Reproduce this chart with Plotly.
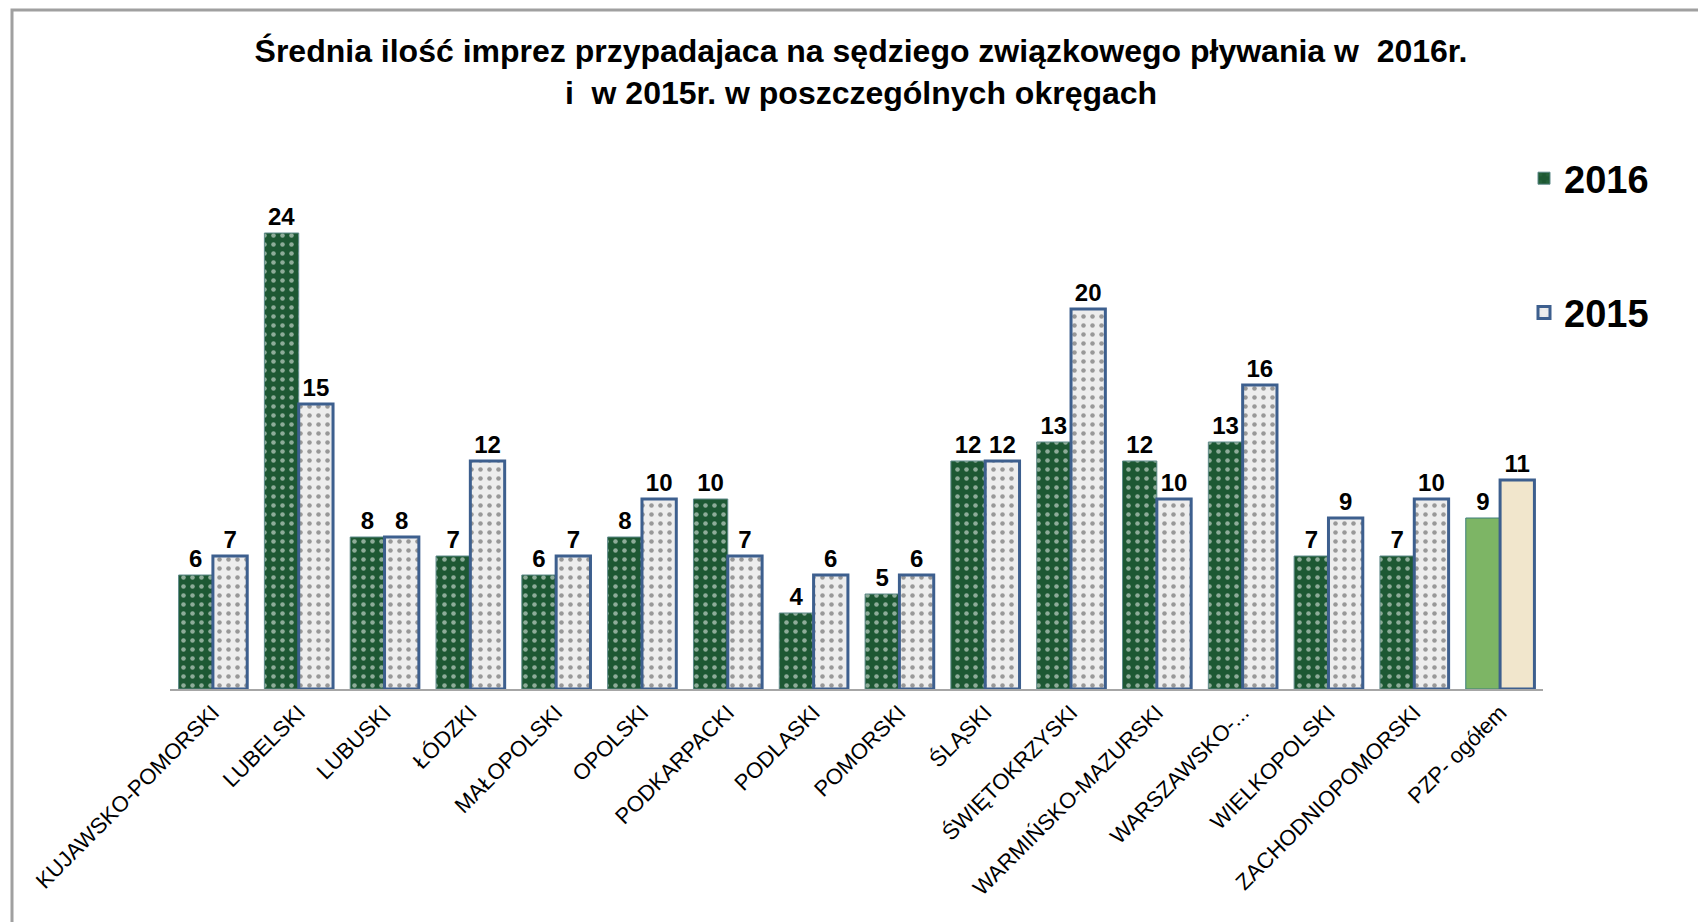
import plotly.graph_objects as go

okregi = [
    "KUJAWSKO-POMORSKI", "LUBELSKI", "LUBUSKI", "ŁÓDZKI", "MAŁOPOLSKI",
    "OPOLSKI", "PODKARPACKI", "PODLASKI", "POMORSKI", "ŚLĄSKI",
    "ŚWIĘTOKRZYSKI", "WARMIŃSKO-MAZURSKI", "WARSZAWSKO-...", "WIELKOPOLSKI",
    "ZACHODNIOPOMORSKI", "PZP- ogółem",
]
imprezy_2016 = [6, 24, 8, 7, 6, 8, 10, 4, 5, 12, 13, 12, 13, 7, 7, 9]
imprezy_2015 = [7, 15, 8, 12, 7, 10, 7, 6, 6, 12, 20, 10, 16, 9, 10, 11]

n = len(okregi)
kolor_2016 = ["#1d5833"] * (n - 1) + ["#7db565"]
kolor_2015 = ["#ededed"] * (n - 1) + ["#f1e6cc"]
ramka_2016 = ["#5f8a8a"] * (n - 1) + ["#3f7f7a"]
wzor = ["."] * (n - 1) + [""]

# strona ma 8px marginesu body, wiec wszystko przesuwamy o 8px
W, H = 1706, 922
L, R, T, B = 162, 171, 142, 241
pw, ph = W - L - R, H - T - B

fig = go.Figure()
fig.add_trace(go.Bar(
    x=okregi, y=imprezy_2016, name="2016", legendgroup="a",
    marker=dict(color=kolor_2016, line=dict(color=ramka_2016, width=1),
                pattern=dict(shape=wzor, fgcolor="#2c6b42", size=9, solidity=0.2)),
    text=imprezy_2016, textposition="outside", cliponaxis=False,
    textfont=dict(family="Liberation Sans", size=24, color="black", weight="bold"),
))
fig.add_trace(go.Bar(
    x=okregi, y=imprezy_2015, name="2015", legendgroup="b",
    marker=dict(color=kolor_2015, line=dict(color="#3d5f8e", width=3),
                pattern=dict(shape=wzor, fgcolor="#e0e0e0", size=9, solidity=0.2)),
    text=imprezy_2015, textposition="outside", cliponaxis=False,
    textfont=dict(family="Liberation Sans", size=24, color="black", weight="bold"),
))

fig.update_layout(
    width=W, height=H,
    margin=dict(l=L, r=R, t=T, b=B),
    paper_bgcolor="white", plot_bgcolor="white",
    barmode="group", bargap=0.2, bargroupgap=0.0,
    title=dict(
        text="Średnia ilość imprez przypadajaca na sędziego związkowego pływania w  2016r.<br>i  w 2015r. w poszczególnych okręgach",
        x=0.5, xanchor="center", y=1 - 54 / H, yanchor="top", yref="container",
        font=dict(family="Liberation Sans", size=32, color="black", weight="bold"),
    ),
    legend=dict(
        x=(1516 - L) / pw, xanchor="left", y=(H - B - 139) / ph, yanchor="top",
        font=dict(family="Liberation Sans", size=38, color="black", weight="bold"),
        tracegroupgap=82, bgcolor="rgba(0,0,0,0)",
    ),
    xaxis=dict(
        tickangle=-45, showline=True, linecolor="#a6a6a6", linewidth=2,
        ticks="", showgrid=False,
        tickfont=dict(family="Liberation Sans", size=22, color="black"),
    ),
    yaxis=dict(range=[0, ph / 19.0], visible=False, showgrid=False),
    shapes=[dict(
        type="rect", xref="paper", yref="paper",
        x0=(4 - L) / pw, x1=(1704 - L) / pw,
        y0=-(B + 20) / ph, y1=1 + (T - 2) / ph,
        line=dict(color="#a0a0a0", width=3), fillcolor="rgba(0,0,0,0)", layer="below",
    )],
)

fig.write_html("out.html")
